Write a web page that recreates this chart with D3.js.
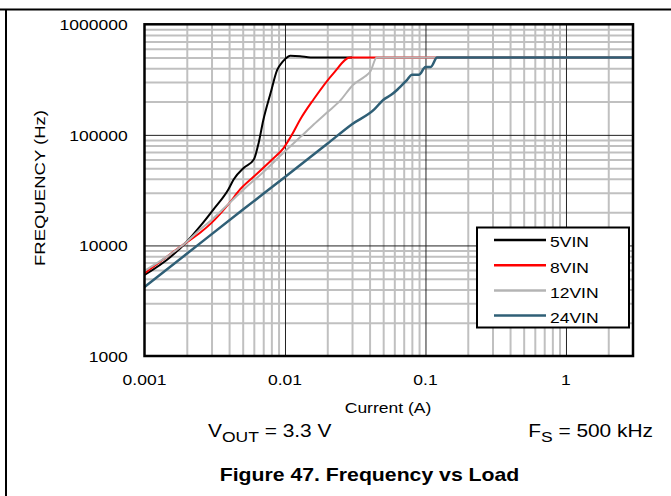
<!DOCTYPE html>
<html>
<head>
<meta charset="utf-8">
<script src="https://cdn.jsdelivr.net/npm/d3@7"></script>
<style>
  body { margin: 0; background: #fff; }
  text { font-family: "Liberation Sans", Arial, sans-serif; fill: #000; }
</style>
</head>
<body>
<svg width="671" height="496"></svg>
<script>
// series names + colours
let seriesNames = ["5VIN", "8VIN", "12VIN", "24VIN"];
let seriesColors = ["#000000", "#ff0000", "#b4b4b4", "#2f5f76"];

// load current (A) and switching frequency (Hz)
let current5 = [0.001, 0.0015, 0.002, 0.0025, 0.0031, 0.00396, 0.00431, 0.0051, 0.006, 0.0065, 0.007, 0.0079, 0.0088, 0.0095, 0.01, 0.0109, 0.0128, 0.0152, 0.02, 0.03];
let freq5 = [5400, 7700, 10800, 15000, 21200, 32200, 39500, 50400, 59800, 85000, 135000, 239000, 387000, 450000, 483000, 520000, 515000, 500000, 500000, 500000];

let current8 = [0.001, 0.002, 0.0025, 0.003, 0.004, 0.0048, 0.006, 0.008, 0.0098, 0.0112, 0.0128, 0.016, 0.0222, 0.0291, 0.045, 3];
let freq8 = [5600, 10700, 13100, 16000, 24000, 32200, 42000, 59000, 76400, 100000, 137000, 210000, 362000, 500000, 500000, 500000];

let current12 = [0.001, 0.002, 0.0025, 0.003, 0.004, 0.0051, 0.007, 0.01, 0.0128, 0.016, 0.02, 0.0247, 0.0306, 0.037, 0.0405, 0.045, 3];
let freq12 = [5900, 10800, 14000, 17000, 24000, 32200, 46000, 71000, 95000, 124000, 160000, 204000, 284000, 337000, 374000, 500000, 500000];

let current24 = [0.001, 0.002, 0.005, 0.01, 0.02, 0.03, 0.043, 0.05, 0.057, 0.063, 0.074, 0.08, 0.09, 0.1, 0.109, 0.121, 0.2, 0.5, 1, 3];
let freq24 = [4200, 8400, 21000, 41500, 83000, 125000, 169000, 207000, 230000, 256000, 315000, 349000, 350000, 410000, 411000, 500000, 500000, 500000, 500000, 500000];

let xTicks = [0.001, 0.01, 0.1, 1];
let xTickLabels = ["0.001", "0.01", "0.1", "1"];
let yTicks = [1000, 10000, 100000, 1000000];
let yTickLabels = ["1000", "10000", "100000", "1000000"];

let currents = [current5, current8, current12, current24];
let freqs = [freq5, freq8, freq12, freq24];

// the source picture is stretched a bit sideways, so is the text
let sx = 1.13;

let plotLeft = 144.5, plotRight = 633, plotTop = 24.3, plotBottom = 356;
let svg = d3.select('svg');

let x = d3.scaleLog().domain([0.001, 3]).range([plotLeft, plotRight]);
let y = d3.scaleLog().domain([1000, 1000000]).range([plotBottom, plotTop]);

function label(g, px, py, str, size, anchor, bold) {
    return g.append('text')
        .attr('transform', 'translate(' + px + ',' + py + ') scale(' + sx + ',1)')
        .attr('text-anchor', anchor)
        .attr('font-size', size)
        .attr('font-weight', bold ? 'bold' : 'normal')
        .text(str);
}

// outer frame (top + left rule only)
svg.append('line').attr('x1', 0).attr('x2', 671).attr('y1', 9.5).attr('y2', 9.5).attr('stroke', '#000').attr('stroke-width', 2);
svg.append('line').attr('x1', 6).attr('x2', 6).attr('y1', 9.5).attr('y2', 496).attr('stroke', '#000').attr('stroke-width', 2);

// minor grid values
let xMinor = [];
for (let d = -3; d <= 0; d++) {
    for (let k = 2; k <= 9; k++) {
        let v = k * Math.pow(10, d);
        if (v < 3) xMinor.push(v);
    }
}
let yMinor = [];
for (let d = 3; d <= 5; d++) {
    for (let k = 2; k <= 9; k++) yMinor.push(k * Math.pow(10, d));
}

let gw = plotRight - plotLeft, gh = plotBottom - plotTop;
let grid = svg.append('g');
grid.append('g').attr('transform', 'translate(0,' + plotBottom + ')')
    .call(d3.axisBottom(x).tickValues(xMinor).tickSize(-gh).tickFormat(''))
    .call(g => g.select('.domain').remove())
    .call(g => g.selectAll('line').attr('stroke', '#c0c0c0').attr('stroke-width', 2));
grid.append('g').attr('transform', 'translate(' + plotLeft + ',0)')
    .call(d3.axisLeft(y).tickValues(yMinor).tickSize(-gw).tickFormat(''))
    .call(g => g.select('.domain').remove())
    .call(g => g.selectAll('line').attr('stroke', '#c0c0c0').attr('stroke-width', 2));

// decade lines
grid.append('g').attr('transform', 'translate(0,' + plotBottom + ')')
    .call(d3.axisBottom(x).tickValues(xTicks.slice(1)).tickSize(-gh).tickFormat(''))
    .call(g => g.select('.domain').remove())
    .call(g => g.selectAll('line').attr('stroke', '#222').attr('stroke-width', 1));
grid.append('g').attr('transform', 'translate(' + plotLeft + ',0)')
    .call(d3.axisLeft(y).tickValues(yTicks.slice(1, 3)).tickSize(-gw).tickFormat(''))
    .call(g => g.select('.domain').remove())
    .call(g => g.selectAll('line').attr('stroke', '#222').attr('stroke-width', 1));

// curves
let line = d3.line().x(d => x(d[0])).y(d => y(d[1])).curve(d3.curveMonotoneX);
for (let i = 0; i < seriesNames.length; i++) {
    let pts = currents[i].map((c, j) => [c, freqs[i][j]]);
    svg.append('path').datum(pts)
        .attr('d', line)
        .attr('fill', 'none')
        .attr('stroke', seriesColors[i])
        .attr('stroke-width', i == 3 ? 2.5 : 2)
        .attr('stroke-linejoin', 'round');
}

// plot border
svg.append('rect').attr('x', plotLeft).attr('y', plotTop).attr('width', gw).attr('height', gh)
    .attr('fill', 'none').attr('stroke', '#000').attr('stroke-width', 2.5);

// tick labels
let tl = svg.append('g');
xTicks.forEach((t, i) => label(tl, x(t), 385, xTickLabels[i], 15.5, 'middle'));
yTicks.forEach((t, i) => label(tl, 127.7, y(t) + 6, yTickLabels[i], 15.5, 'end'));

// axis titles
label(svg, 388, 413, 'Current (A)', 15.5, 'middle');
svg.append('text')
    .attr('transform', 'translate(44.5,188) rotate(-90)')
    .attr('text-anchor', 'middle')
    .attr('font-size', 15.5)
    .attr('textLength', 156)
    .attr('lengthAdjust', 'spacingAndGlyphs')
    .text('FREQUENCY (Hz)');

// conditions
let vout = label(svg, 208, 437.3, 'V', 18.5, 'start');
vout.append('tspan').attr('font-size', 15.5).attr('dy', 4.4).text('OUT');
vout.append('tspan').attr('dy', -4.4).text(' = 3.3 V');

let fs = label(svg, 653, 437.3, 'F', 18.5, 'end');
fs.append('tspan').attr('font-size', 15.5).attr('dy', 4.4).text('S');
fs.append('tspan').attr('dy', -4.4).text(' = 500 kHz');

label(svg, 369.5, 481, 'Figure 47. Frequency vs Load', 18.8, 'middle', true);

// legend
let legend = svg.append('g');
legend.append('rect').attr('x', 477).attr('y', 227.5).attr('width', 152).attr('height', 100)
    .attr('fill', '#fff').attr('stroke', '#000').attr('stroke-width', 2);
seriesNames.forEach((name, i) => {
    let ly = 240 + i * 25.2;
    legend.append('line').attr('x1', 494).attr('x2', 546).attr('y1', ly).attr('y2', ly)
        .attr('stroke', seriesColors[i]).attr('stroke-width', 2.5);
    label(legend, 550, ly + 7.3, name, 15.5, 'start');
});
</script>
</body>
</html>
